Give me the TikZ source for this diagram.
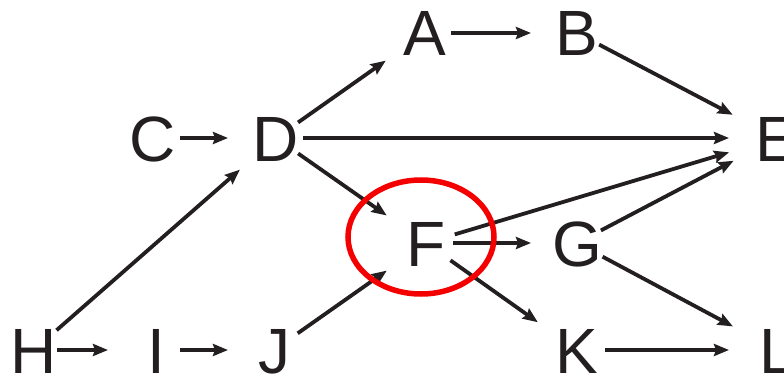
\documentclass[tikz,border=0pt]{standalone}
\usepackage{fontspec}
\setmainfont{Liberation Sans}
\usetikzlibrary{arrows.meta}
\definecolor{ink}{RGB}{35,31,32}
\definecolor{ring}{RGB}{245,0,0}
\tikzset{
  lab/.style={inner sep=0pt, outer sep=0pt, anchor=center, text=ink,
    font=\fontsize{64}{64}\selectfont, text height=46pt, text depth=0pt},
  arr/.style={draw=ink, line width=3.8pt,
    -{Stealth[length=15pt,width=12pt,inset=2pt]},
    shorten <=27pt, shorten >=48pt},
  circ/.style={draw=ring, line width=5.5pt}
}
\begin{document}
\begin{tikzpicture}[x=1pt,y=-1pt]
\useasboundingbox (0,0) rectangle (784,377);
\clip (0,0) rectangle (784,377);
\node[lab] (A) at (425,33) {A};
\node[lab] (B) at (577,33) {B};
\node[lab] (C) at (153,138) {C};
\node[lab] (D) at (276,138) {D};
\node[lab] (E) at (777,138) {E};
\node[lab] (F) at (426,243) {F};
\node[lab] (G) at (577,243) {G};
\node[lab] (H) at (34,350) {H};
\node[lab] (I) at (156,350) {I};
\node[lab] (J) at (274,350) {J};
\node[lab] (K) at (577,350) {K};
\node[lab] (L) at (777,350) {L};
\draw[arr] (C.center) -- (D.center);
\draw[arr] (D.center) -- (A.center);
\draw[arr] (D.center) -- (E.center);
\draw[arr] (D.center) -- (F.center);
\draw[arr, shorten <=30pt] (H.center) -- (D.center);
\draw[arr, shorten <=23pt] (H.center) -- (I.center);
\draw[arr, shorten <=24pt, shorten >=46pt] (I.center) -- (J.center);
\draw[arr, shorten <=29pt] (J.center) -- (F.center);
\draw[arr, shorten <=26pt, shorten >=46pt] (A.center) -- (B.center);
\draw[arr, shorten <=25pt, shorten >=50pt] (B.center) -- (E.center);
\draw[arr, shorten <=30pt, shorten >=50pt] (F.center) -- (E.center);
\draw[arr, shorten >=49pt] (G.center) -- (E.center);
\draw[arr, shorten >=46pt] (F.center) -- (G.center);
\draw[arr, shorten <=30pt] (F.center) -- (K.center);
\draw[arr, shorten <=29pt, shorten >=50pt] (G.center) -- (L.center);
\draw[arr, shorten <=28pt] (K.center) -- (L.center);
\draw[circ] (421,237) ellipse [x radius=73, y radius=57];
\end{tikzpicture}
\end{document}
